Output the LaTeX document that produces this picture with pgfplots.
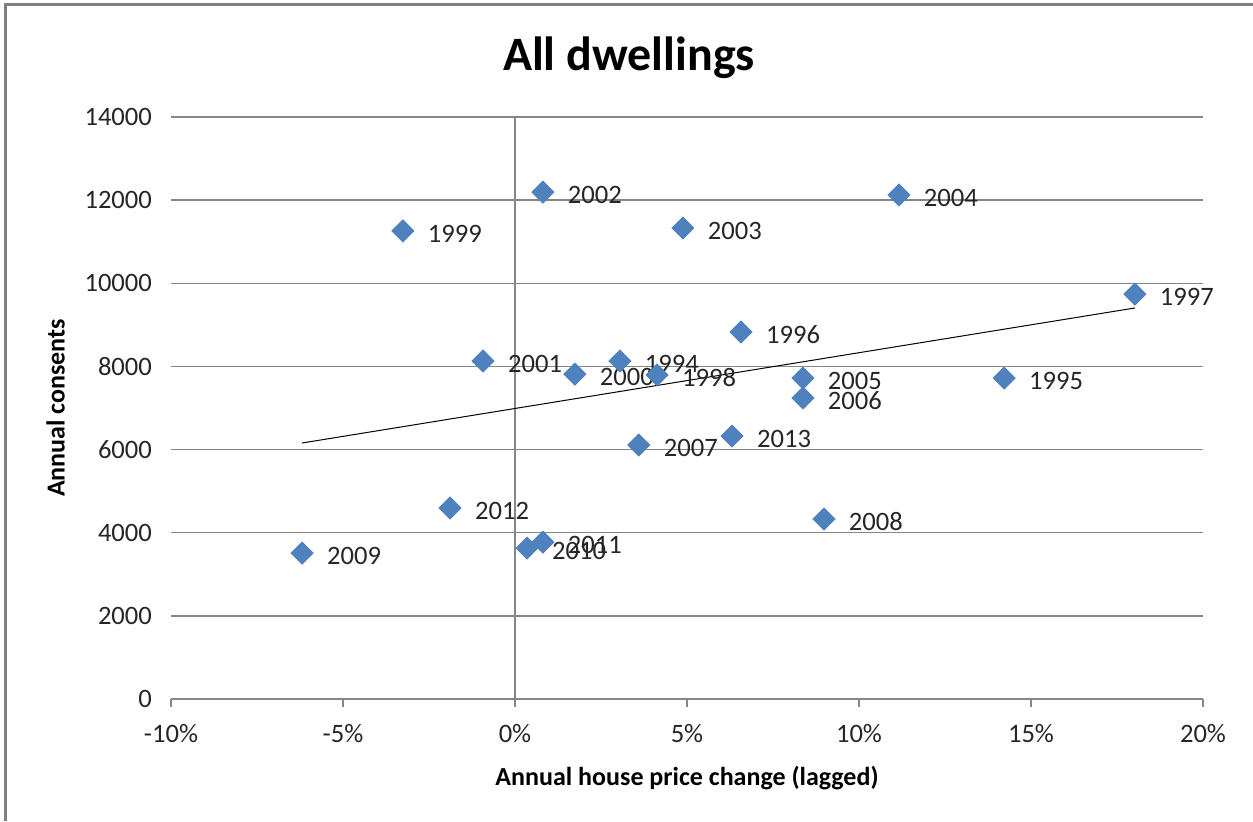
\documentclass[border=0pt]{standalone}
\usepackage{pgfplots}
\pgfplotsset{compat=1.18}
\usepackage{fontspec}
\setmainfont{Carlito}
\definecolor{markblue}{HTML}{4F81BD}
\definecolor{gridgray}{HTML}{868686}
\definecolor{framegray}{HTML}{808080}

% Lagged annual house price change (%) vs annual dwelling consents
\pgfplotstableread{
x      y      label
-6.19  3510   2009
-3.26  11260  1999
-1.89  4595   2012
-0.93  8130   2001
0.35   3630   2010
0.81   3775   2011
0.81   12195  2002
1.74   7815   2000
3.05   8130   1994
4.13   7795   1998
3.60   6110   2007
4.88   11330  2003
6.31   6325   2013
6.57   8830   1996
8.37   7720   2005
8.37   7240   2006
8.98   4330   2008
11.16  12125  2004
14.22  7720   1995
18.02  9740   1997
}\consents

\begin{document}
\begin{tikzpicture}[x=0.5pt,y=0.5pt]
\useasboundingbox (0,0) rectangle (1253,821);
% chart area frame (top and left edges)
\draw[framegray, line width=1.5pt] (5,0) -- (5,816) -- (1253,816);
% title
\node[font=\fontsize{24}{28}\selectfont\bfseries] at (629,763) {All dwellings};
\coordinate (plotorigin) at (171,122);
\begin{axis}[
  at={(plotorigin)}, anchor=south west,
  scale only axis,
  width=516pt, height=291pt,
  xmin=-10, xmax=20, ymin=0, ymax=14000,
  scaled y ticks=false,
  xtick={-10,-5,0,5,10,15,20},
  xticklabels={-10\%,-5\%,0\%,5\%,10\%,15\%,20\%},
  ytick={0,2000,4000,6000,8000,10000,12000,14000},
  yticklabels={0,2000,4000,6000,8000,10000,12000,14000},
  axis x line*=bottom,
  axis y line*=left,
  x axis line style={gridgray, line width=0.75pt, -},
  y axis line style={draw=none},
  ymajorgrids, major grid style={gridgray, line width=0.75pt},
  xtick style={gridgray, line width=0.75pt},
  major tick length=4pt,
  xtick align=outside,
  ytick style={draw=none},
  ticklabel style={font=\fontsize{13.3}{16}\selectfont, text=black!85},
  yticklabel style={xshift=-6pt},
  xticklabel style={yshift=-5pt},
  extra x ticks={0}, extra x tick labels={},
  extra x tick style={grid=major, major grid style={gridgray, line width=0.75pt}},
  xlabel={Annual house price change (lagged)},
  ylabel={Annual consents},
  label style={font=\fontsize{13}{16}\selectfont\bfseries},
  xlabel style={yshift=3pt},
  ylabel style={yshift=3pt},
  clip=false,
]
% linear trend line
\addplot[black, line width=0.5pt] coordinates {(-6.19,6158) (18.02,9406)};
\addplot[only marks, mark=square*, mark size=3.9pt,
  mark options={rotate=45, fill=markblue, draw=markblue},
  nodes near coords, point meta=explicit symbolic,
  every node near coord/.append style={anchor=west, xshift=9pt, yshift=-1.5pt,
    font=\fontsize{13.3}{16}\selectfont, text=black!85}]
  table[x=x, y=y, meta=label] {\consents};
\end{axis}
\end{tikzpicture}
\end{document}
